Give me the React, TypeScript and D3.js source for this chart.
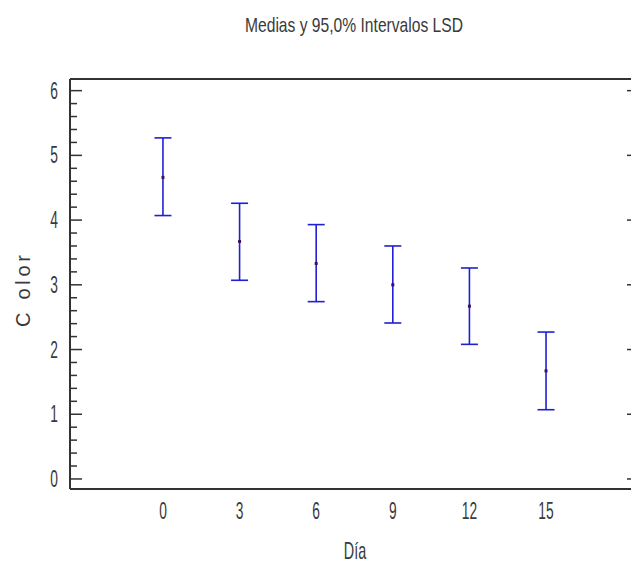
import React from "react";
import * as d3 from "d3";

const days = [0, 3, 6, 9, 12, 15];
const means = [4.66, 3.67, 3.33, 3.0, 2.67, 1.67];
const lower = [4.07, 3.07, 2.74, 2.41, 2.08, 1.07];
const upper = [5.27, 4.26, 3.93, 3.6, 3.26, 2.27];
const yTicks = [0, 1, 2, 3, 4, 5, 6];

const title = "Medias y 95,0% Intervalos LSD";
const xLabel = "Día";
const yLabel = "C olor";

const W = 631;
const H = 563;
const font = "'Liberation Sans', Arial, sans-serif";

// condensed text: the original uses a tall narrow face
const Narrow = ({ x, y, anchor = "middle", size = 23, sx = 0.6, children }: any) => (
  <g transform={`translate(${x},${y}) scale(${sx},1)`}>
    <text textAnchor={anchor} fontFamily={font} fontSize={size} fill="#3a3a3a">
      {children}
    </text>
  </g>
);

const App = () => {
  const left = 70;
  const right = 639;
  const top = 79;
  const bottom = 489;

  const xScale = d3.scaleLinear().domain([-3.64, 18.64]).range([left, right]);
  const yScale = d3.scaleLinear().domain([-0.155, 6.18]).range([bottom, top]);

  const minor = d3.range(0, 6.01, 0.2).filter((v) => Math.abs(v - Math.round(v)) > 0.01);
  const axisColor = "#333";
  const barColor = "#1f1fd4";

  return (
    <svg
      width={W}
      height={H}
      style={{ position: "absolute", left: 0, top: 0, display: "block", background: "#fff" }}
    >
      <text
        x={245}
        y={32}
        textLength={218}
        lengthAdjust="spacingAndGlyphs"
        fontFamily={font}
        fontSize={21}
        fill="#3a3a3a"
      >
        {title}
      </text>

      {/* frame */}
      <line x1={left} y1={top} x2={right} y2={top} stroke={axisColor} strokeWidth={2} />
      <line x1={left} y1={bottom} x2={right} y2={bottom} stroke={axisColor} strokeWidth={2} />
      <line x1={left} y1={top} x2={left} y2={bottom} stroke={axisColor} strokeWidth={2} />
      <line x1={right} y1={top} x2={right} y2={bottom} stroke={axisColor} strokeWidth={2} />

      {/* y ticks, left and mirrored on right */}
      {yTicks.map((t) => (
        <g key={t}>
          <line x1={left} x2={left + 12} y1={yScale(t)} y2={yScale(t)} stroke={axisColor} strokeWidth={1.5} />
          <line x1={right} x2={right - 12} y1={yScale(t)} y2={yScale(t)} stroke={axisColor} strokeWidth={1.5} />
          <Narrow x={58} y={yScale(t) + 8} anchor="end">
            {t}
          </Narrow>
        </g>
      ))}
      {minor.map((t) => (
        <g key={t.toFixed(1)}>
          <line x1={left} x2={left + 7} y1={yScale(t)} y2={yScale(t)} stroke={axisColor} strokeWidth={1.5} />
          <line x1={right} x2={right - 7} y1={yScale(t)} y2={yScale(t)} stroke={axisColor} strokeWidth={1.5} />
        </g>
      ))}

      {/* x tick labels */}
      {days.map((d) => (
        <Narrow key={d} x={xScale(d)} y={519}>
          {d}
        </Narrow>
      ))}

      {/* error bars */}
      {days.map((d, i) => {
        const cx = xScale(d);
        return (
          <g key={d}>
            <line x1={cx} x2={cx} y1={yScale(upper[i])} y2={yScale(lower[i])} stroke={barColor} strokeWidth={1.6} />
            <line x1={cx - 8.5} x2={cx + 8.5} y1={yScale(upper[i])} y2={yScale(upper[i])} stroke={barColor} strokeWidth={1.6} />
            <line x1={cx - 8.5} x2={cx + 8.5} y1={yScale(lower[i])} y2={yScale(lower[i])} stroke={barColor} strokeWidth={1.6} />
            <rect x={cx - 1.5} y={yScale(means[i]) - 1.5} width={3} height={3} fill="#3a1060" />
          </g>
        );
      })}

      <Narrow x={355} y={559} size={24}>
        {xLabel}
      </Narrow>
      <text
        transform={`translate(30,291) rotate(-90)`}
        x={-36}
        textLength={72}
        lengthAdjust="spacing"
        fontFamily={font}
        fontSize={20}
        fill="#3a3a3a"
      >
        {yLabel}
      </text>
    </svg>
  );
};

export default App;
